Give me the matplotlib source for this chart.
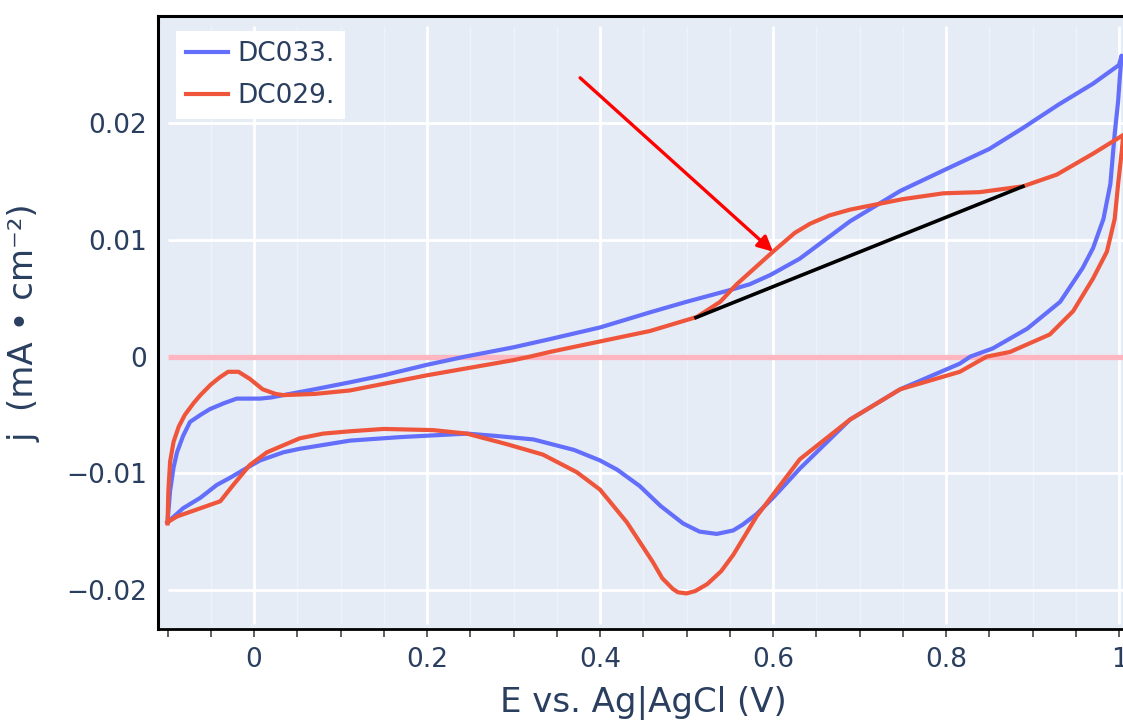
import matplotlib
matplotlib.use("Agg")
import matplotlib.pyplot as plt
import numpy as np

plt.rcParams['font.family'] = ['DejaVu Sans']

# DC033 forward (anodic) scan
e_033_fwd = [-0.100, -0.097, -0.093, -0.089, -0.082, -0.074, -0.062, -0.051, -0.035, -0.020,
             -0.005, 0.007, 0.020, 0.034, 0.070, 0.111, 0.150, 0.200, 0.244, 0.300,
             0.342, 0.400, 0.458, 0.500, 0.550, 0.573, 0.597, 0.631, 0.660, 0.689, 0.727,
             0.747, 0.801, 0.850, 0.889, 0.930, 0.970, 1.000, 1.003]
j_033_fwd = [-0.0142, -0.0115, -0.0095, -0.0082, -0.0068, -0.0056, -0.0050, -0.0045, -0.0040, -0.0036,
             -0.0036, -0.0036, -0.0035, -0.0033, -0.0028, -0.0022, -0.0016, -0.0007, 0.0000, 0.0008,
             0.0015, 0.0025, 0.0038, 0.0047, 0.0057, 0.0062, 0.0070, 0.0084, 0.0100, 0.0116, 0.0133,
             0.0142, 0.0161, 0.0178, 0.0196, 0.0216, 0.0234, 0.0250, 0.0258]
# DC033 reverse (cathodic) scan
e_033_rev = [1.003, 1.001, 0.999, 0.995, 0.990, 0.982, 0.970, 0.958, 0.932, 0.894,
             0.854, 0.828, 0.816, 0.747, 0.689, 0.631, 0.600, 0.581, 0.565, 0.554, 0.535, 0.515,
             0.496, 0.470, 0.446, 0.420, 0.400, 0.370, 0.323, 0.280, 0.246, 0.169,
             0.111, 0.053, 0.034, 0.007, -0.005, -0.028, -0.043, -0.062, -0.082, -0.100]
j_033_rev = [0.0258, 0.0240, 0.0219, 0.0191, 0.0148, 0.0118, 0.0093, 0.0076, 0.0047, 0.0024,
             0.0007, 0.0000, -0.0006, -0.0028, -0.0054, -0.0096, -0.0121, -0.0135, -0.0144, -0.0149, -0.0152, -0.0150,
             -0.0143, -0.0128, -0.0111, -0.0097, -0.0089, -0.0080, -0.0071, -0.0068, -0.0066, -0.0069,
             -0.0072, -0.0079, -0.0082, -0.0089, -0.0094, -0.0104, -0.0110, -0.0121, -0.0130, -0.0142]

# DC029 forward scan
e_029_fwd = [-0.100, -0.099, -0.097, -0.093, -0.087, -0.080, -0.070, -0.062, -0.050, -0.040,
             -0.030, -0.018, -0.005, 0.010, 0.025, 0.034, 0.070, 0.111, 0.200, 0.300,
             0.319, 0.342, 0.400, 0.458, 0.512, 0.539, 0.558, 0.600, 0.625, 0.643, 0.665, 0.689,
             0.750, 0.797, 0.839, 0.889, 0.928, 0.970, 1.005]
j_029_fwd = [-0.0143, -0.0115, -0.0090, -0.0073, -0.0060, -0.0050, -0.0040, -0.0033, -0.0024, -0.0018,
             -0.0013, -0.0013, -0.0019, -0.0028, -0.0032, -0.0033, -0.0032, -0.0029, -0.0016, -0.0003,
             0.0000, 0.0004, 0.0013, 0.0022, 0.0034, 0.0047, 0.0062, 0.0090, 0.0106, 0.0114, 0.0121, 0.0126,
             0.0135, 0.0140, 0.0141, 0.0146, 0.0156, 0.0174, 0.0190]
# DC029 reverse scan
e_029_rev = [1.005, 1.003, 0.999, 0.995, 0.986, 0.970, 0.947, 0.920, 0.874, 0.847,
             0.816, 0.747, 0.689, 0.631, 0.581, 0.554, 0.540, 0.524, 0.510, 0.500, 0.490, 0.484, 0.472, 0.461,
             0.431, 0.400, 0.373, 0.334, 0.292, 0.246, 0.207, 0.150, 0.111, 0.080,
             0.053, 0.015, -0.005, -0.024, -0.039, -0.062, -0.089, -0.100]
j_029_rev = [0.0190, 0.0175, 0.0148, 0.0118, 0.0090, 0.0067, 0.0039, 0.0019, 0.0004, 0.0000,
             -0.0013, -0.0028, -0.0054, -0.0088, -0.0137, -0.0170, -0.0184, -0.0195, -0.0201, -0.0203, -0.0202, -0.0199, -0.0190, -0.0176,
             -0.0142, -0.0114, -0.0099, -0.0084, -0.0075, -0.0066, -0.0063, -0.0062, -0.0064, -0.0066,
             -0.0070, -0.0082, -0.0093, -0.0110, -0.0124, -0.0130, -0.0137, -0.0142]

# annotations (data coords)
base_x = [0.511, 0.889]
base_j = [0.00335, 0.01459]
arrow_tail = (0.377, 0.0239)
arrow_head = (0.600, 0.0090)

xticks_major = [0, 0.2, 0.4, 0.6, 0.8, 1.0]
xtick_labels = ['0', '0.2', '0.4', '0.6', '0.8', '1']
yticks = [-0.02, -0.01, 0, 0.01, 0.02]
ytick_labels = ['\u22120.02', '\u22120.01', '0', '0.01', '0.02']

txt = '#2a3f5f'
bg = '#E5ECF6'

fig = plt.figure(figsize=(11.23, 7.2), dpi=100)
ax = fig.add_axes([158/1123, 91/720, 970/1123, 613/720])
ax.set_facecolor(bg)
ax.set_xlim(-0.111, 1.0104)
ax.set_ylim(-0.02335, 0.0292)

# grid (plotly style: spans only padded data range)
gx0, gx1 = -0.1, 1.0104
gy0, gy1 = -0.0229, 0.0283
for xm in np.arange(-0.05, 1.01, 0.05):
    if abs(round(xm / 0.2) * 0.2 - xm) > 1e-6:
        ax.vlines(xm, gy0, gy1, color='#EEF2F9', lw=1.0, zorder=0.5)
for xm in xticks_major:
    ax.vlines(xm, gy0, gy1, color='white', lw=2.0, zorder=0.6)
for ym in yticks:
    ax.hlines(ym, gx0, gx1, color='white', lw=2.0, zorder=0.6)

ax.hlines(0, -0.1, 1.0104, color='#FFB6C1', lw=3.8, zorder=1)

blue = '#636EFA'
red = '#EF553B'
ax.plot(e_033_fwd + e_033_rev, j_033_fwd + j_033_rev, color=blue, lw=3, label='DC033.', zorder=2,
        solid_joinstyle='round')
ax.plot(e_029_fwd + e_029_rev, j_029_fwd + j_029_rev, color=red, lw=3, label='DC029.', zorder=3,
        solid_joinstyle='round')

ax.plot(base_x, base_j, color='black', lw=2.6, zorder=4)
ax.annotate('', xy=arrow_head, xytext=arrow_tail,
            arrowprops=dict(arrowstyle='-|>,head_length=0.9,head_width=0.45', color='#FF0000',
                            lw=2.4, shrinkA=0, shrinkB=0), zorder=5)

# axes styling
ax.spines['right'].set_visible(False)
for s in ['left', 'top']:
    ax.spines[s].set_linewidth(2.2)
    ax.spines[s].set_color('black')
ax.spines['bottom'].set_linewidth(2.0)
ax.spines['bottom'].set_color('black')

ax.set_xticks(np.arange(-0.1, 1.01, 0.05), minor=True)
ax.set_xticks(xticks_major)
ax.set_xticklabels(xtick_labels)
ax.tick_params(axis='x', which='both', direction='out', length=6, width=1.2, color='#444444')
ax.tick_params(axis='x', which='major', labelsize=19, labelcolor=txt, pad=7)
ax.set_yticks(yticks)
ax.set_yticklabels(ytick_labels)
ax.tick_params(axis='y', length=0, labelsize=19, labelcolor=txt, pad=8)

ax.set_xlabel('E vs. Ag|AgCl (V)', fontsize=24.5, color=txt, labelpad=9)
ax.set_ylabel('j  (mA \u2022 cm\u207b\u00b2)', fontsize=24.5, color=txt, labelpad=18)

leg = ax.legend(loc='upper left', bbox_to_anchor=(0.0186, 0.9755), borderaxespad=0,
                fontsize=19, frameon=True, fancybox=False, framealpha=1, edgecolor='none',
                facecolor='white', handlelength=1.6, handletextpad=0.35, borderpad=0.38,
                labelspacing=0.6)
for t in leg.get_texts():
    t.set_color(txt)

fig.savefig('out.png', dpi=100)
